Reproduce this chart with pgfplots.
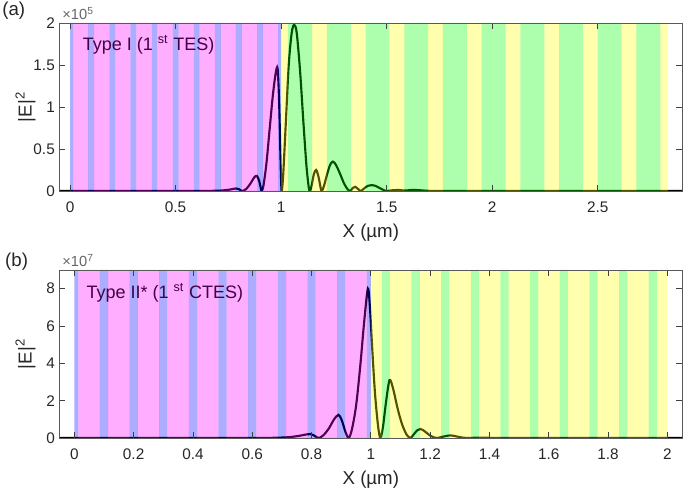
\documentclass[border=0pt]{standalone}
\usepackage{pgfplots}
\pgfplotsset{compat=1.18}
\usepackage{fontspec}
\setmainfont{Liberation Sans}
\definecolor{curvepurple}{RGB}{70,0,70}
\definecolor{cmag}{RGB}{255,0,255}
\definecolor{cblue}{RGB}{0,0,255}
\definecolor{cgreen}{RGB}{0,255,0}
\definecolor{cyellow}{RGB}{255,255,0}
\begin{document}
\begin{tikzpicture}
\path[use as bounding box] (-44.625pt,17.25pt) rectangle (469.125pt,-351pt);
\pgfplotsset{
  mystyle/.style={
    scale only axis, width=467pt, height=126pt, ymin=0,
    axis on top, clip mode=individual,
    axis line style={black!65, line width=0.6pt},
    every tick/.style={black!75, line width=0.6pt},
    tick align=inside,
    /pgf/number format/assume math mode=true,
    ticklabel style={font=\fontsize{11.5}{13}\selectfont, text=black!85},
    xticklabel style={yshift=-4.5pt},
    label style={font=\fontsize{14}{16}\selectfont, text=black!85},
    xlabel={X (µm)},
    ylabel={|E|\textsuperscript{2}},
    xlabel style={at={(axis description cs:0.5,-0.25)}, anchor=center},
    ylabel style={at={(axis description cs:-0.0546,0.5)}, anchor=center},
  },
  stripe/.style={const plot, draw=none, fill=#1, fill opacity=0.32, forget plot},
  curve/.style={black, line width=1.6pt, smooth, forget plot},
}
% ---------------- (a) ----------------
\begin{axis}[mystyle, at={(0,0)}, anchor=north west,
  xmin=-0.05, xmax=2.9, ymax=2,
  xtick={0,0.5,1,1.5,2,2.5}, ytick={0,0.5,1,1.5,2}]
\addplot[curve] coordinates {(-0.05,0) (0.5,0) (0.65,0.001) (0.72,0.006) (0.76,0.018) (0.785,0.03) (0.80,0.022) (0.815,0) (0.835,0.025) (0.855,0.09) (0.872,0.16) (0.885,0.18) (0.896,0.12) (0.904,0.03) (0.908,0) (0.916,0.06) (0.93,0.32) (0.945,0.72) (0.96,1.12) (0.974,1.40) (0.983,1.46) (0.99,1.1) (0.996,0.5) (1.0,0.12) (1.003,0) (1.01,0.2) (1.022,0.8) (1.036,1.5) (1.05,1.88) (1.062,1.98) (1.074,1.88) (1.09,1.42) (1.106,0.8) (1.12,0.3) (1.131,0.04) (1.137,0) (1.145,0.07) (1.155,0.2) (1.166,0.25) (1.177,0.17) (1.187,0.04) (1.193,0) (1.203,0.06) (1.218,0.2) (1.232,0.31) (1.245,0.35) (1.26,0.31) (1.28,0.2) (1.298,0.09) (1.315,0.02) (1.327,0) (1.339,0.035) (1.351,0.05) (1.364,0.025) (1.378,0) (1.395,0.035) (1.413,0.063) (1.43,0.07) (1.45,0.058) (1.47,0.03) (1.49,0.006) (1.5,0) (1.525,0.008) (1.556,0.012) (1.58,0.006) (1.6,0.008) (1.625,0.014) (1.655,0.009) (1.7,0.002) (1.75,0) (2.9,0)};
\addplot[stripe=cblue] coordinates {(0,2) (0.014,0) (0.086,2) (0.114,0) (0.186,2) (0.214,0) (0.286,2) (0.314,0) (0.386,2) (0.414,0) (0.486,2) (0.514,0) (0.586,2) (0.614,0) (0.686,2) (0.714,0) (0.786,2) (0.814,0) (0.886,2) (0.914,0) (0.986,2) (1,0)} \closedcycle;
\addplot[stripe=cmag] coordinates {(0.014,2) (0.086,0) (0.114,2) (0.186,0) (0.214,2) (0.286,0) (0.314,2) (0.386,0) (0.414,2) (0.486,0) (0.514,2) (0.586,0) (0.614,2) (0.686,0) (0.714,2) (0.786,0) (0.814,2) (0.886,0) (0.914,2) (0.986,0)} \closedcycle;
\addplot[stripe=cyellow] coordinates {(1,2) (1.0333,0) (1.1467,2) (1.2167,0) (1.33,2) (1.40,0) (1.5133,2) (1.5833,0) (1.6967,2) (1.7667,0) (1.88,2) (1.95,0) (2.0633,2) (2.1333,0) (2.2467,2) (2.3167,0) (2.43,2) (2.50,0) (2.6133,2) (2.6833,0) (2.7967,2) (2.8333,0)} \closedcycle;
\addplot[stripe=cgreen] coordinates {(1.0333,2) (1.1467,0) (1.2167,2) (1.33,0) (1.40,2) (1.5133,0) (1.5833,2) (1.6967,0) (1.7667,2) (1.88,0) (1.95,2) (2.0633,0) (2.1333,2) (2.2467,0) (2.3167,2) (2.43,0) (2.50,2) (2.6133,0) (2.6833,2) (2.7967,0)} \closedcycle;
\node[anchor=west, font=\fontsize{13.5}{16}\selectfont, text=curvepurple] at (rel axis cs:0.03,0.87) {Type I (1 \textsuperscript{st} TES)};
\node[anchor=south west, font=\fontsize{11}{13}\selectfont, text=black!60, inner sep=0pt] at (rel axis cs:0,1) [xshift=2pt, yshift=2pt] {×10\textsuperscript{5}};
\end{axis}
\node[anchor=north west, inner sep=0pt, font=\fontsize{14}{16}\selectfont, text=black!85] at (-43.1pt,15.75pt) {(a)};
% ---------------- (b) ----------------
\begin{axis}[mystyle, at={(0,-185.25pt)}, anchor=north west,
  xmin=-0.05, xmax=2.05, ymax=9,
  xtick={0,0.2,0.4,0.6,0.8,1,1.2,1.4,1.6,1.8,2}, ytick={0,2,4,6,8}]
\addplot[curve] coordinates {(-0.05,0) (0.5,0) (0.65,0.005) (0.72,0.04) (0.76,0.12) (0.782,0.19) (0.796,0.21) (0.81,0.12) (0.824,0) (0.84,0.15) (0.858,0.5) (0.876,1.0) (0.891,1.24) (0.902,0.95) (0.914,0.35) (0.925,0) (0.936,0.45) (0.95,1.7) (0.964,3.8) (0.978,6.3) (0.99,8.0) (0.997,7.0) (1.005,4.7) (1.014,2.4) (1.024,0.7) (1.032,0) (1.041,0.6) (1.051,1.9) (1.063,3.1) (1.075,2.65) (1.09,1.6) (1.105,0.75) (1.12,0.2) (1.133,0) (1.145,0.2) (1.157,0.42) (1.167,0.48) (1.18,0.38) (1.198,0.15) (1.213,0.03) (1.223,0) (1.24,0.06) (1.268,0.14) (1.29,0.08) (1.31,0.02) (1.33,0) (1.36,0.02) (1.4,0.01) (1.45,0) (2.05,0)};
\addplot[stripe=cblue] coordinates {(0,9) (0.014,0) (0.086,9) (0.114,0) (0.186,9) (0.214,0) (0.286,9) (0.314,0) (0.386,9) (0.414,0) (0.486,9) (0.514,0) (0.586,9) (0.614,0) (0.686,9) (0.714,0) (0.786,9) (0.814,0) (0.886,9) (0.914,0) (0.986,9) (1,0)} \closedcycle;
\addplot[stripe=cmag] coordinates {(0.014,9) (0.086,0) (0.114,9) (0.186,0) (0.214,9) (0.286,0) (0.314,9) (0.386,0) (0.414,9) (0.486,0) (0.514,9) (0.586,0) (0.614,9) (0.686,0) (0.714,9) (0.786,0) (0.814,9) (0.886,0) (0.914,9) (0.986,0)} \closedcycle;
\addplot[stripe=cgreen] coordinates {(1.037,9) (1.065,0) (1.137,9) (1.165,0) (1.237,9) (1.265,0) (1.337,9) (1.365,0) (1.437,9) (1.465,0) (1.537,9) (1.565,0) (1.637,9) (1.665,0) (1.737,9) (1.765,0) (1.837,9) (1.865,0) (1.937,9) (1.965,0)} \closedcycle;
\addplot[stripe=cyellow] coordinates {(1,9) (1.037,0) (1.065,9) (1.137,0) (1.165,9) (1.237,0) (1.265,9) (1.337,0) (1.365,9) (1.437,0) (1.465,9) (1.537,0) (1.565,9) (1.637,0) (1.665,9) (1.737,0) (1.765,9) (1.837,0) (1.865,9) (1.937,0) (1.965,9) (2,0)} \closedcycle;
\node[anchor=west, font=\fontsize{13.5}{16}\selectfont, text=curvepurple] at (rel axis cs:0.036,0.863) {Type II* (1 \textsuperscript{st} CTES)};
\node[anchor=south west, font=\fontsize{11}{13}\selectfont, text=black!60, inner sep=0pt] at (rel axis cs:0,1) [xshift=2pt, yshift=2pt] {×10\textsuperscript{7}};
\end{axis}
\node[anchor=north west, inner sep=0pt, font=\fontsize{14}{16}\selectfont, text=black!85] at (-40.9pt,-172.5pt) {(b)};
\end{tikzpicture}
\end{document}
